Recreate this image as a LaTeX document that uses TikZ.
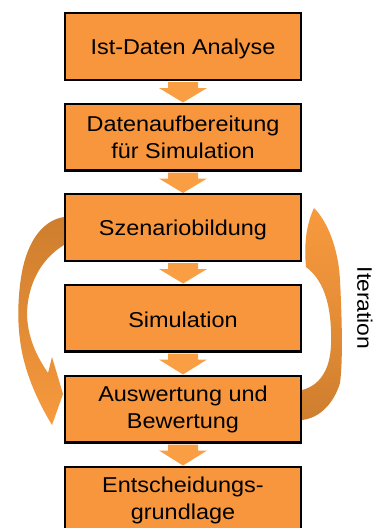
\documentclass[tikz,border=0pt]{standalone}
\usepackage{fontspec}
\setmainfont[FakeStretch=1.09]{Liberation Sans}
\usetikzlibrary{calc}
\definecolor{boxorange}{RGB}{247,150,60}
\definecolor{arrorange}{RGB}{249,158,66}
\definecolor{curvedark}{RGB}{206,126,46}
\definecolor{curvelight}{RGB}{248,154,62}
\newcommand\gaparrow[2]{%
  \fill[arrorange] ($(#1.south)+(-15,1.2)$) -- ($(#1.south)+(15,1.2)$)
    -- ($(#1.south)+(15,7)$) -- ($(#1.south)+(24,7)$) -- (#2.north)
    -- ($(#1.south)+(-24,7)$) -- ($(#1.south)+(-15,7)$) -- cycle;}
\begin{document}
\begin{tikzpicture}[x=1pt,y=-1pt,
  stepbox/.style={draw=black, line width=2.4pt, fill=boxorange,
    minimum width=235.6pt, minimum height=66.6pt, inner sep=0pt,
    align=center, font=\fontsize{21.5}{27}\selectfont,
    execute at begin node={\rule{0pt}{19.5pt}}}]
\useasboundingbox (0,0) rectangle (374,528);
\fill[white] (0,0) rectangle (374,528);
\clip (0,0) rectangle (374,528);

\node[stepbox] (b1) at (183,46.5) {Ist-Daten Analyse};
\node[stepbox] (b2) at (183,137) {Datenaufbereitung\\für Simulation};
\node[stepbox] (b3) at (183,227.5) {Szenariobildung};
\node[stepbox] (b4) at (183,318) {Simulation};
\node[stepbox] (b5) at (183,409) {Auswertung und\\Bewertung};
\node[stepbox] (b6) at (183,500) {Entscheidungs-\\grundlage};

\gaparrow{b1}{b2}
\gaparrow{b2}{b3}
\gaparrow{b3}{b4}
\gaparrow{b4}{b5}
\gaparrow{b5}{b6}

% left curved arrow: from Szenariobildung down to Auswertung
\shade[top color=curvedark, bottom color=curvelight, middle color=curvedark!55!curvelight]
 (64,217) .. controls (45,220) and (30,237) .. (23,267)
 .. controls (18,290) and (17,318) .. (20,340)
 .. controls (24,372) and (38,402) .. (52,425)
 -- (63,394) -- (52,357) -- (48,373)
 .. controls (36,355) and (28,338) .. (27,315)
 .. controls (27,292) and (36,262) .. (64,245) -- cycle;

% right curved arrow: from Auswertung up to Szenariobildung
\shade[top color=curvelight, bottom color=curvedark, middle color=curvedark!45!curvelight]
 (314,208) .. controls (326,220) and (338,245) .. (340,280)
 .. controls (342,320) and (343,360) .. (340,383)
 .. controls (334,403) and (320,418) .. (302,420)
 -- (302,390)
 .. controls (318,386) and (330,372) .. (331,345)
 .. controls (332,310) and (326,282) .. (306,267)
 .. controls (304,245) and (306,225) .. (314,208) -- cycle;

\node[rotate=-90, font=\fontsize{21}{25}\selectfont, inner sep=0pt] (it) at (365,308) {Iteration};
\end{tikzpicture}
\end{document}
